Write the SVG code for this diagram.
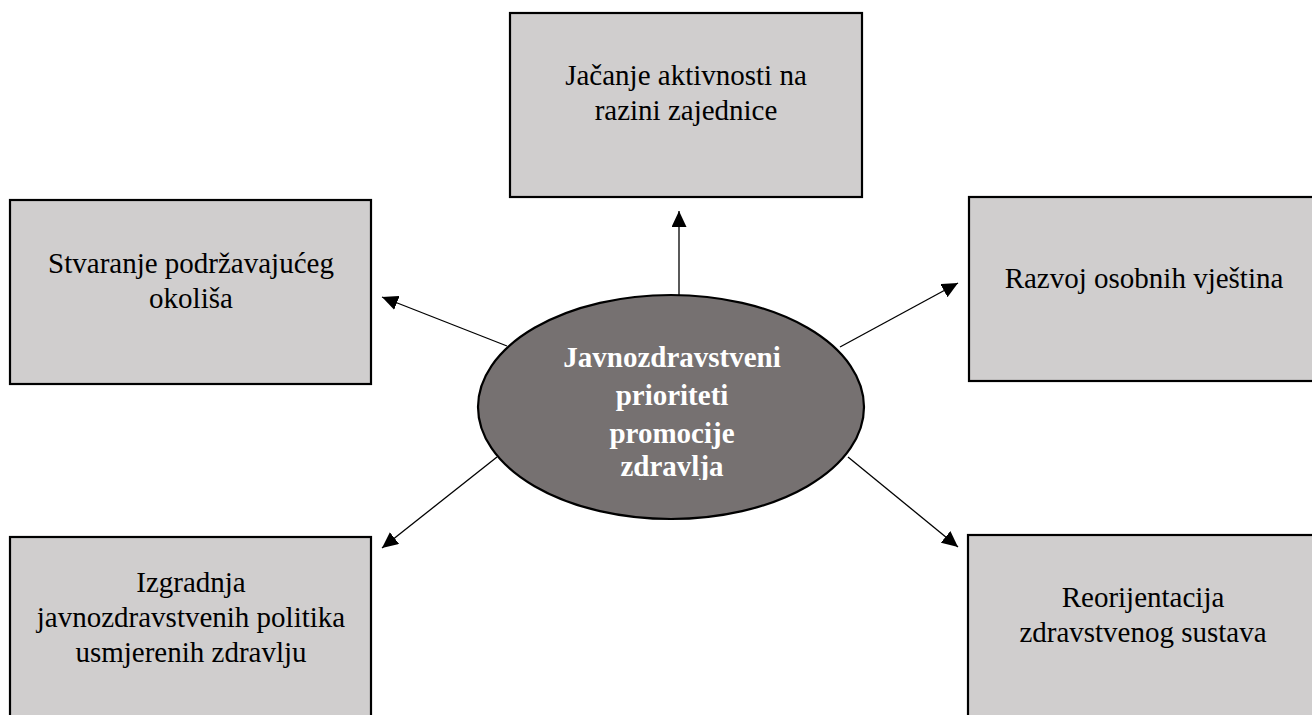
<svg xmlns="http://www.w3.org/2000/svg" width="1312" height="715" viewBox="0 0 1312 715">
  <style>
    .box { fill: #d0cece; stroke: #000; stroke-width: 2.2; }
    .lbl { font-family: "Liberation Serif", "Times New Roman", serif; font-size: 29px; fill: #000; text-anchor: middle; }
    .ctr { font-family: "Liberation Serif", "Times New Roman", serif; font-size: 29px; font-weight: bold; fill: #fff; text-anchor: middle; }
    .conn { stroke: #000; stroke-width: 1.3; fill: none; marker-end: url(#arrow); }
  </style>
  <defs>
    <marker id="arrow" markerUnits="userSpaceOnUse" markerWidth="17" markerHeight="15" refX="16" refY="7.5" orient="auto">
      <path d="M0,0 L16,7.5 L0,15 z" fill="#000"/>
    </marker>
    <clipPath id="ctrclip">
      <rect x="480" y="330" width="380" height="150"/>
    </clipPath>
  </defs>
  <rect width="1312" height="715" fill="#fff"/>

  <g id="connectors">
    <line class="conn" x1="679" y1="295" x2="679" y2="211"/>
    <line class="conn" x1="507" y1="346" x2="382" y2="297"/>
    <line class="conn" x1="840" y1="347" x2="958" y2="283"/>
    <line class="conn" x1="497" y1="457" x2="382" y2="548"/>
    <line class="conn" x1="848" y1="457" x2="958" y2="547"/>
  </g>

  <g id="node-top">
    <rect class="box" x="510" y="13" width="352" height="184"/>
    <text class="lbl" x="686" y="85">Jačanje aktivnosti na</text>
    <text class="lbl" x="686" y="120">razini zajednice</text>
  </g>

  <g id="node-left">
    <rect class="box" x="10" y="200" width="361" height="184"/>
    <text class="lbl" x="191" y="273">Stvaranje podržavajućeg</text>
    <text class="lbl" x="191" y="308">okoliša</text>
  </g>

  <g id="node-right">
    <rect class="box" x="969" y="197" width="362" height="184"/>
    <text class="lbl" x="1144" y="288">Razvoj osobnih vještina</text>
  </g>

  <g id="node-bottom-left">
    <rect class="box" x="10" y="537" width="361" height="200"/>
    <text class="lbl" x="191" y="592">Izgradnja</text>
    <text class="lbl" x="191" y="627">javnozdravstvenih politika</text>
    <text class="lbl" x="191" y="662">usmjerenih zdravlju</text>
  </g>

  <g id="node-bottom-right">
    <rect class="box" x="968" y="535" width="362" height="200"/>
    <text class="lbl" x="1143" y="607">Reorijentacija</text>
    <text class="lbl" x="1143" y="642">zdravstvenog sustava</text>
  </g>

  <g id="node-center">
    <ellipse cx="671" cy="407" rx="193" ry="112" fill="#767171" stroke="#000" stroke-width="2.2"/>
    <g clip-path="url(#ctrclip)">
      <text class="ctr" x="672" y="367">Javnozdravstveni</text>
      <text class="ctr" x="672" y="405">prioriteti</text>
      <text class="ctr" x="672" y="443">promocije</text>
      <text class="ctr" x="672" y="476">zdravlja</text>
    </g>
  </g>
</svg>
